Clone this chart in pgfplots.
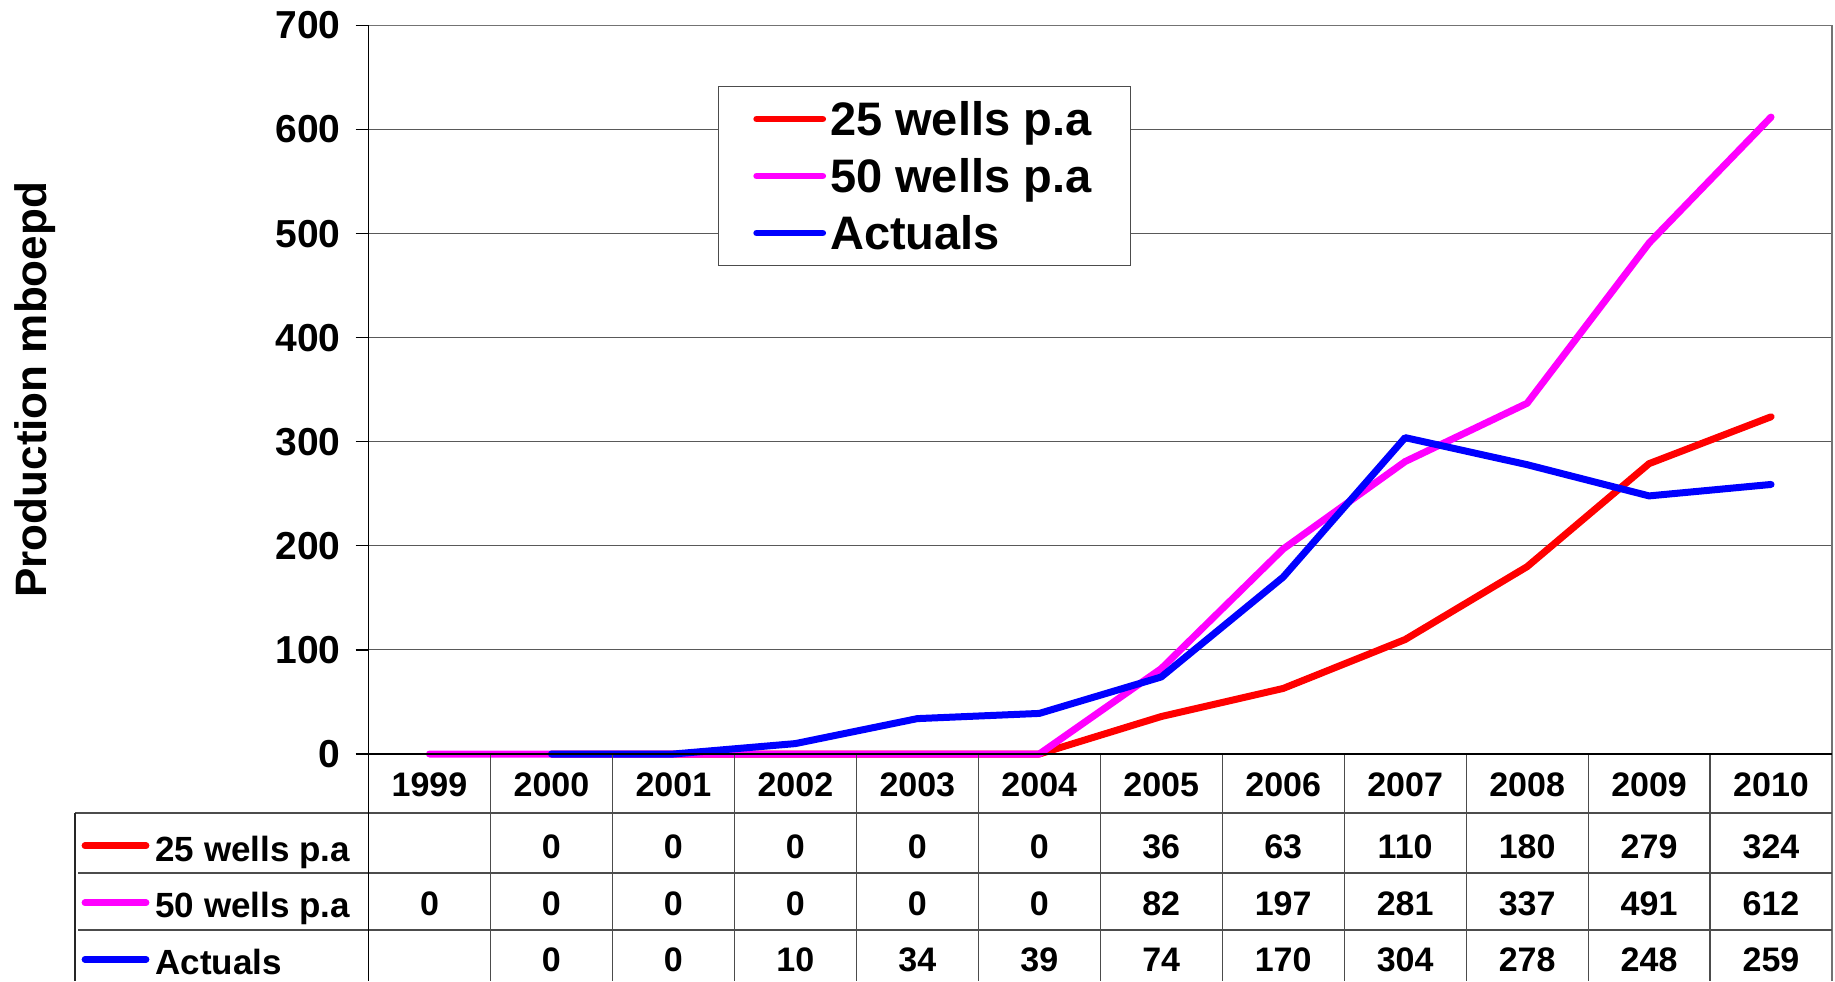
\documentclass[border=0pt]{standalone}
\usepackage{pgfplots}
\pgfplotsset{compat=1.18}
\usepackage{pgfplotstable}
\usepackage{fontspec}
\setmainfont{Liberation Sans}
\pgfkeys{/pgf/number format/assume math mode=true}

% 25 wells p.a (no 1999 value)
\pgfplotstableread{
x y
1 0
2 0
3 0
4 0
5 0
6 36
7 63
8 110
9 180
10 279
11 324
}\tblA
% 50 wells p.a
\pgfplotstableread{
x y
0 0
1 0
2 0
3 0
4 0
5 0
6 82
7 197
8 281
9 337
10 491
11 612
}\tblB
% Actuals (no 1999 value)
\pgfplotstableread{
x y
1 0
2 0
3 10
4 34
5 39
6 74
7 170
8 304
9 278
10 248
11 259
}\tblC

\definecolor{cRed}{RGB}{255,0,0}
\definecolor{cMag}{RGB}{255,0,255}
\definecolor{cBlue}{RGB}{0,0,255}

\begin{document}
\begin{tikzpicture}
\useasboundingbox (0,0) rectangle (917.5pt,490.5pt);
\begin{axis}[
  at={(184.25pt,113.5pt)}, anchor=south west,
  scale only axis, width=731.75pt, height=364.25pt,
  xmin=-0.5, xmax=11.5, ymin=0, ymax=700,
  xtick={0,1,2,3,4,5,6,7,8,9,10,11},
  xticklabels={1999,2000,2001,2002,2003,2004,2005,2006,2007,2008,2009,2010},
  ytick={0,100,200,300,400,500,600,700},
  ymajorgrids, grid style={black!65, line width=0.5pt},
  axis line style={draw=none},
  clip=false,
  tick align=outside, major tick length=6.5pt,
  x tick style={draw=none}, y tick style={black, line width=0.6pt},
  ytick pos=left, xtick pos=bottom,
  /pgf/number format/1000 sep={},
  yticklabel style={font=\fontsize{19.5}{22}\selectfont\bfseries, xshift=-4pt},
  xticklabel style={font=\fontsize{17}{20}\selectfont\bfseries, anchor=base, yshift=-14.5pt},
  ylabel={Production mboepd},
  ylabel style={font=\fontsize{22}{26}\selectfont\bfseries, at={([xshift=-166.5pt]rel axis cs:0,0.5)}, anchor=center},
  legend style={at={(0.2386,0.917)}, anchor=north west, draw=black!70, line width=0.6pt, fill=white,
    font=\fontsize{23.5}{26}\selectfont\bfseries, inner xsep=17.5pt, inner ysep=3.25pt,
    nodes={inner sep=2pt, text height=19pt, text depth=3pt}, row sep=2.5pt,
    /tikz/every even column/.append style={column sep=1pt}},
  legend cell align=left,
  legend image code/.code={\draw[#1, line width=3.4pt, line cap=round] (0pt,0pt) -- (33pt,0pt);},
]
\addplot[cRed, mark=none, line width=3.5pt, line cap=round, line join=round] table[x=x, y=y]{\tblA};
\addlegendentry{25 wells p.a}
\addplot[cMag, mark=none, line width=3.5pt, line cap=round, line join=round] table[x=x, y=y]{\tblB};
\addlegendentry{50 wells p.a}
\addplot[cBlue, mark=none, line width=3.5pt, line cap=round, line join=round] table[x=x, y=y]{\tblC};
\addlegendentry{Actuals}

% data table values
\addplot[draw=none, mark=none, forget plot, nodes near coords, point meta=explicit,
  nodes near coords style={anchor=base, yshift=-52.25pt, font=\fontsize{17}{20}\selectfont\bfseries, text=black}]
  table[x=x, y expr=0, meta=y]{\tblA};
\addplot[draw=none, mark=none, forget plot, nodes near coords, point meta=explicit,
  nodes near coords style={anchor=base, yshift=-80.5pt, font=\fontsize{17}{20}\selectfont\bfseries, text=black}]
  table[x=x, y expr=0, meta=y]{\tblB};
\addplot[draw=none, mark=none, forget plot, nodes near coords, point meta=explicit,
  nodes near coords style={anchor=base, yshift=-108.8pt, font=\fontsize{17}{20}\selectfont\bfseries, text=black}]
  table[x=x, y expr=0, meta=y]{\tblC};
\end{axis}

% frame and data table grid
\draw[black!55, line width=0.6pt] (184.25pt,477.75pt) -- (916pt,477.75pt) -- (916pt,0pt);
\foreach \k in {1,...,11} {
  \draw[black!70, line width=0.6pt] ({184.25pt+\k*60.979pt},113.5pt) -- ({184.25pt+\k*60.979pt},0pt);
}
\draw[black!70, line width=0.6pt] (37.5pt,84pt) -- (916pt,84pt);
\draw[black!70, line width=0.6pt] (39pt,54pt) -- (916pt,54pt);
\draw[black!70, line width=0.6pt] (39pt,25.5pt) -- (916pt,25.5pt);
\draw[black!85, line width=0.6pt] (37.5pt,84pt) -- (37.5pt,0pt);
\draw[black, line width=0.8pt] (184.25pt,477.75pt) -- (184.25pt,0pt);
\draw[black, line width=0.8pt] (184.25pt,113.5pt) -- (916pt,113.5pt);

% row labels with keys
\draw[cRed, line width=3.4pt, line cap=round] (42.5pt,67.6pt) -- (73pt,67.6pt);
\draw[cMag, line width=3.4pt, line cap=round] (42.5pt,39.1pt) -- (73pt,39.1pt);
\draw[cBlue, line width=3.4pt, line cap=round] (42.5pt,10.8pt) -- (73pt,10.8pt);
\node[anchor=base west, inner sep=0pt, font=\fontsize{17.5}{20}\selectfont\bfseries] at (77.5pt,60pt) {25 wells p.a};
\node[anchor=base west, inner sep=0pt, font=\fontsize{17.5}{20}\selectfont\bfseries] at (77.5pt,31.85pt) {50 wells p.a};
\node[anchor=base west, inner sep=0pt, font=\fontsize{17.5}{20}\selectfont\bfseries] at (77.5pt,3.5pt) {Actuals};
\end{tikzpicture}
\end{document}
